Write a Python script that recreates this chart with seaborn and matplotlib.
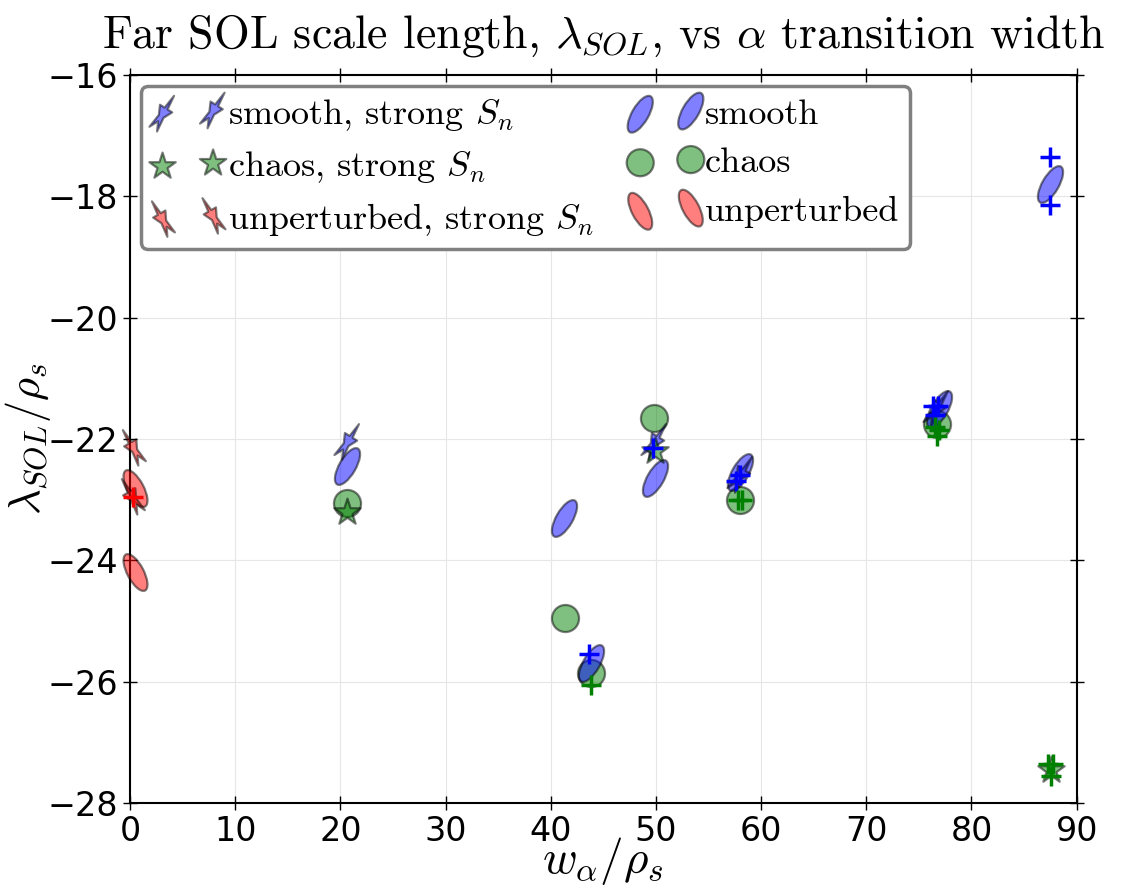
import numpy as np
import seaborn as sns
import matplotlib.pyplot as plt
from matplotlib.path import Path
from matplotlib.markers import MarkerStyle
from matplotlib.transforms import Affine2D

# Data
smooth_w = [20.6, 41.3, 43.8, 49.9, 58.0, 76.9, 87.5]
smooth_lam = [-22.45, -23.3, -25.7, -22.65, -22.55, -21.5, -17.8]

chaos_w = [20.6, 41.4, 43.8, 49.8, 58.0, 76.7]
chaos_lam = [-23.05, -24.95, -25.85, -21.65, -23.0, -21.75]

unpert_w = [0.5, 0.5]
unpert_lam = [-22.8, -24.2]

smooth_sn_w = [20.6, 49.8, 58.0, 76.6]
smooth_sn_lam = [-22.05, -22.05, -22.6, -21.5]

chaos_sn_w = [20.6, 49.9, 87.6]
chaos_sn_lam = [-23.2, -22.2, -27.45]

unpert_sn_w = [0.3, 0.2]
unpert_sn_lam = [-22.15, -22.95]

cross_blue_w = [87.5, 87.5, 76.3, 76.8, 76.5, 58.0, 57.6, 43.6, 49.7]
cross_blue_lam = [-17.35, -18.15, -21.45, -21.45, -21.6, -22.6, -22.7, -25.55, -22.15]
cross_green_w = [43.8, 57.8, 58.2, 76.5, 76.9, 76.7, 87.3, 87.8, 87.6]
cross_green_lam = [-26.05, -23.0, -23.0, -21.8, -21.85, -21.95, -27.35, -27.35, -27.55]
cross_red_w = [0.3]
cross_red_lam = [-22.95]


def shaped(base, sx, rot):
    # squash a marker path and tilt it, like the spread ellipse
    path = MarkerStyle(base).get_path()
    tr = Affine2D().scale(sx, 1.0).rotate_deg(rot)
    return Path(tr.transform(path.vertices), path.codes)


ell_smooth = shaped('o', 0.4, -30)
ell_unpert = shaped('o', 0.4, 28)
bolt_smooth = shaped('*', 0.35, -32)
bolt_unpert = shaped('*', 0.35, 30)

sns.set_style("whitegrid")
plt.rcParams['mathtext.fontset'] = 'cm'
plt.rcParams['axes.edgecolor'] = 'black'
plt.rcParams['grid.color'] = '#e6e6e6'
plt.rcParams['text.color'] = 'black'
plt.rcParams['axes.labelcolor'] = 'black'
plt.rcParams['xtick.color'] = 'black'
plt.rcParams['ytick.color'] = 'black'

fig = plt.figure(figsize=(11.25, 8.88), dpi=100)
ax = fig.add_axes([0.1156, 0.0957, 0.8414, 0.8198])

common = dict(alpha=0.5, edgecolor='k', linewidth=1.6, ax=ax)

sns.scatterplot(x=chaos_w, y=chaos_lam, marker='o', s=380, color='g', label='chaos', zorder=2, **common)
sns.scatterplot(x=smooth_w, y=smooth_lam, marker=ell_smooth, s=750, color='b', label='smooth', zorder=3, **common)
sns.scatterplot(x=unpert_w, y=unpert_lam, marker=ell_unpert, s=750, color='r', label='unperturbed', zorder=3, **common)

sns.scatterplot(x=smooth_sn_w, y=smooth_sn_lam, marker=bolt_smooth, s=700, color='b',
                label=r'smooth, strong $S_n$', zorder=4, **common)
sns.scatterplot(x=chaos_sn_w, y=chaos_sn_lam, marker='*', s=400, color='g',
                label=r'chaos, strong $S_n$', zorder=4, **common)
sns.scatterplot(x=unpert_sn_w, y=unpert_sn_lam, marker=bolt_unpert, s=700, color='r',
                label=r'unperturbed, strong $S_n$', zorder=4, **common)

ax.scatter(cross_blue_w, cross_blue_lam, marker='+', s=220, color='b', linewidths=2.5, zorder=5)
ax.scatter(cross_green_w, cross_green_lam, marker='+', s=220, color='g', linewidths=2.5, zorder=5)
ax.scatter(cross_red_w, cross_red_lam, marker='+', s=220, color='r', linewidths=2.5, zorder=5)

for c in ax.collections:
    c.set_clip_on(False)

ax.set_xlim(0, 90)
ax.set_ylim(-28, -16)
ax.set_xticks(np.arange(0, 91, 10))
ax.set_yticks(np.arange(-28, -15, 2))
ax.tick_params(axis='both', labelsize=24, direction='inout', length=10, width=1,
               top=True, right=True, bottom=True, left=True, color='k', labelcolor='k')
for sp in ax.spines.values():
    sp.set_linewidth(1.5)
    sp.set_color('k')

ax.set_xlabel(r'$w_\alpha/\rho_s$', fontsize=34, labelpad=-9)
ax.set_ylabel(r'$\lambda_{SOL}/\rho_s$', fontsize=32, labelpad=-4)
ax.set_title(r'Far SOL scale length, $\lambda_{SOL}$, vs $\alpha$ transition width',
             fontsize=33, fontfamily='cmr10', pad=20)

handles, labels = ax.get_legend_handles_labels()
order = [3, 4, 5, 1, 0, 2]
leg = ax.legend([handles[i] for i in order], [labels[i] for i in order],
                loc='upper left', ncol=2, scatterpoints=2,
                prop={'family': 'cmr10', 'size': 26}, frameon=True, fancybox=True,
                edgecolor='gray', framealpha=1, borderpad=0.3, labelspacing=0.45,
                handlelength=2.0, handletextpad=0.1, columnspacing=1.0, borderaxespad=0.3)
leg.get_frame().set_linewidth(2.5)

fig.savefig('out.png', dpi=100)
